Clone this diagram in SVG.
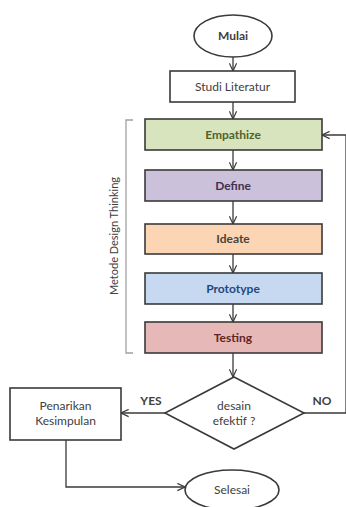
<svg xmlns="http://www.w3.org/2000/svg" width="346" height="507" viewBox="0 0 346 507">
<style>
text{font-family:Lato,"Open Sans","Liberation Sans",sans-serif;font-size:12px;text-anchor:middle;fill:#404040}
.b{font-weight:bold}
.box{stroke:#3a3a3a;stroke-width:1.6}
.c{fill:none;stroke:#3a3a3a;stroke-width:1.3}
</style>
<defs>
<marker id="a" viewBox="0 0 10 10" refX="9.5" refY="5" markerWidth="9" markerHeight="9" markerUnits="userSpaceOnUse" orient="auto">
<path d="M1,1 L9.5,5 L1,9" fill="none" stroke="#3a3a3a" stroke-width="1.3"/>
</marker>
</defs>
<rect width="346" height="507" fill="#fff"/>
<g id="connectors">
<line class="c" x1="233" y1="57" x2="233" y2="71" marker-end="url(#a)"/>
<line class="c" x1="233" y1="102" x2="233" y2="119" marker-end="url(#a)"/>
<line class="c" x1="233" y1="150" x2="233" y2="170" marker-end="url(#a)"/>
<line class="c" x1="233" y1="201" x2="233" y2="224" marker-end="url(#a)"/>
<line class="c" x1="233" y1="254" x2="233" y2="273" marker-end="url(#a)"/>
<line class="c" x1="233" y1="304" x2="233" y2="322" marker-end="url(#a)"/>
<line class="c" x1="233" y1="353" x2="233" y2="377" marker-end="url(#a)"/>
<line class="c" x1="165" y1="413" x2="121" y2="413" marker-end="url(#a)"/>
<path class="c" d="M304,413 H346 V135 H322" marker-end="url(#a)"/>
<path class="c" d="M66,440 V487 H185" marker-end="url(#a)"/>
<text x="151" y="405" class="b">YES</text>
<text x="322" y="405" class="b">NO</text>
</g>
<g id="bracket">
<path d="M133,120 H126 V353 H133" fill="none" stroke="#a0a0a0" stroke-width="1.3"/>
<text x="0" y="0" transform="translate(118,236) rotate(-90)" style="font-size:11px">Metode Design Thinking</text>
</g>
<g id="mulai"><ellipse cx="233" cy="36" rx="39" ry="21" fill="#fff" class="box"/><text x="233" y="40" class="b">Mulai</text></g>
<g id="studi"><rect x="170" y="71" width="125" height="31" fill="#fff" class="box"/><text x="232.5" y="91">Studi Literatur</text></g>
<g id="empathize"><rect x="145" y="119" width="177" height="31" fill="#d7e4bd" class="box"/><text x="233" y="139" class="b" style="fill:#4f6228">Empathize</text></g>
<g id="define"><rect x="145" y="170" width="177" height="31" fill="#ccc1da" class="box"/><text x="233" y="190" class="b" style="fill:#3f3151">Define</text></g>
<g id="ideate"><rect x="145" y="224" width="177" height="30" fill="#fcd5b5" class="box"/><text x="233" y="243" class="b" style="fill:#4a4535">Ideate</text></g>
<g id="prototype"><rect x="145" y="273" width="177" height="31" fill="#c6d9f1" class="box"/><text x="233" y="293" class="b" style="fill:#1f497d">Prototype</text></g>
<g id="testing"><rect x="145" y="322" width="177" height="31" fill="#e6b9b8" class="box"/><text x="233" y="342" class="b" style="fill:#632523">Testing</text></g>
<g id="decision"><polygon points="234,377 304,413 234,449 165,413" fill="#fff" class="box"/><text x="234" y="410">desain</text><text x="234" y="425">efektif ?</text></g>
<g id="penarikan"><rect x="10" y="388" width="111" height="52" fill="#fff" class="box"/><text x="65.5" y="410">Penarikan</text><text x="65.5" y="425">Kesimpulan</text></g>
<g id="selesai"><ellipse cx="232" cy="490" rx="47" ry="20" fill="#fff" class="box"/><text x="232" y="494">Selesai</text></g>
</svg>
